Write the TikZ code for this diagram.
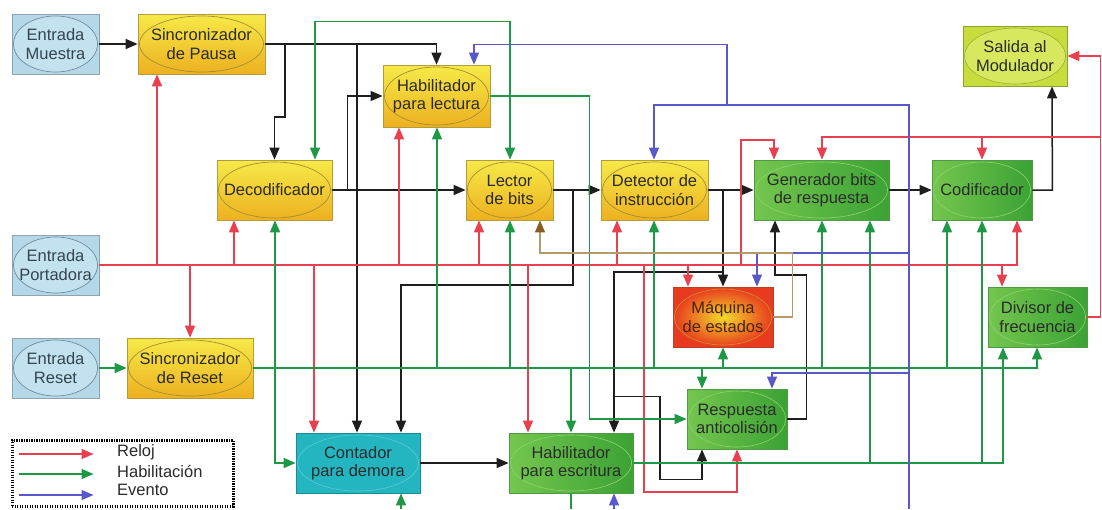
\documentclass[tikz,border=0pt]{standalone}
\usepackage{fontspec}
\setmainfont{Liberation Sans}
\usetikzlibrary{arrows.meta}

% line colours
\definecolor{datc}{HTML}{1E1E1E}
\definecolor{clkc}{HTML}{E8404E}
\definecolor{enc}{HTML}{1F9846}
\definecolor{evc}{HTML}{5858C8}
\definecolor{fbc}{HTML}{B39A6A}
\definecolor{fbtip}{HTML}{8A5A22}
\definecolor{txt}{HTML}{2B2B2B}
% block colours
\definecolor{inpfill}{HTML}{B5D8E8}
\definecolor{inpdraw}{HTML}{8FA4AE}
\definecolor{inpoval}{HTML}{6F8C9C}
\definecolor{inpovalfill}{HTML}{C3E2F0}
\definecolor{inptxt}{HTML}{34454F}
\definecolor{yeltop}{HTML}{F6EA48}
\definecolor{yelbot}{HTML}{EDB020}
\definecolor{yeldraw}{HTML}{B49C3C}
\definecolor{yeloval}{HTML}{A68E34}
\definecolor{grnl}{HTML}{74C64E}
\definecolor{grnr}{HTML}{3BA234}
\definecolor{grndraw}{HTML}{4F9A44}
\definecolor{grnoval}{HTML}{8ED46C}
\definecolor{limfill}{HTML}{C9DC3E}
\definecolor{limdraw}{HTML}{8FA236}
\definecolor{limoval}{HTML}{9AAE3A}
\definecolor{limovalfill}{HTML}{D8E85E}
\definecolor{teafill}{HTML}{24B6C0}
\definecolor{teadraw}{HTML}{1C8C94}
\definecolor{teaoval}{HTML}{58CCD2}
\definecolor{macin}{HTML}{F2DA2A}
\definecolor{macout}{HTML}{E83A1E}
\definecolor{macdraw}{HTML}{B8402A}
\definecolor{macoval}{HTML}{D09030}
\definecolor{mactxt}{HTML}{4A2410}

% a block: rectangle with an inscribed ellipse and its label
\newcommand\blockunit[7]{%
  \pgfmathsetmacro\bcx{(#2+#4)/2}%
  \pgfmathsetmacro\bcy{(#3+#5)/2}%
  \pgfmathsetmacro\bw{#4-#2}%
  \pgfmathsetmacro\bh{#5-#3}%
  \pgfmathsetmacro\brx{\bw/2-1.5}%
  \pgfmathsetmacro\bry{\bh/2-2}%
  \tikzset{cur oval/.style={#6 oval}}%
  \node[box,#6 box,minimum width=\bw pt,minimum height=\bh pt] (#1) at (\bcx,\bcy) {#7};%
}

\begin{document}
\begin{tikzpicture}[x=1pt,y=-1pt,
  >={Triangle[length=12pt,width=10pt]},
  box/.style={rectangle, inner sep=0pt, align=center, line width=0.8pt,
    font=\fontsize{16.5}{18.5}\selectfont, text=txt,
    path picture={\draw[cur oval] (path picture bounding box.center)
      ellipse [x radius=\brx pt, y radius=\bry pt];}},
  inp box/.style={fill=inpfill, draw=inpdraw, text=inptxt},
  inp oval/.style={draw=inpoval, fill=inpovalfill, line width=0.7pt},
  yel box/.style={top color=yeltop, bottom color=yelbot, draw=yeldraw},
  yel oval/.style={draw=yeloval, line width=0.7pt},
  grn box/.style={left color=grnl, right color=grnr, draw=grndraw},
  grn oval/.style={draw=grnoval, line width=0.6pt},
  lim box/.style={fill=limfill, draw=limdraw},
  lim oval/.style={draw=limoval, fill=limovalfill, line width=0.6pt},
  tea box/.style={fill=teafill, draw=teadraw},
  tea oval/.style={draw=teaoval, line width=0.6pt},
  mac box/.style={inner color=macin, outer color=macout, draw=macdraw, text=mactxt},
  mac oval/.style={draw=macoval, line width=0.6pt},
  dat/.style={draw=datc, line width=1.5pt},
  clk/.style={draw=clkc, line width=1.4pt},
  en/.style={draw=enc, line width=1.6pt},
  ev/.style={draw=evc, line width=1.3pt},
  fb/.style={draw=fbc, line width=1.3pt},
  legbox/.style={draw=black, line width=3pt, dash pattern=on 1.4pt off 1.1pt, inner sep=0pt},
  legtxt/.style={anchor=west, inner sep=0pt, font=\fontsize{16.5}{18.5}\selectfont, text=txt}]

\fill[white] (0,0) rectangle (1102,509);
\useasboundingbox (0,0) rectangle (1102,509);
\coordinate (bot) at (0,509);

% ---------- blocks ----------
\blockunit{em}{12}{14}{99}{74}{inp}{Entrada\\Muestra}
\blockunit{sp}{138}{14}{265}{74}{yel}{Sincronizador\\de Pausa}
\blockunit{ep}{12}{235}{99}{295}{inp}{Entrada\\Portadora}
\blockunit{er}{12}{338}{99}{398}{inp}{Entrada\\Reset}
\blockunit{sr}{127}{338}{253}{398}{yel}{Sincronizador\\de Reset}
\blockunit{dec}{217}{160}{332}{220}{yel}{Decodificador}
\blockunit{hl}{383}{65}{490}{127}{yel}{Habilitador\\para lectura}
\blockunit{lb}{466}{160}{553}{220}{yel}{Lector\\de bits}
\blockunit{di}{601}{160}{708}{220}{yel}{Detector de\\instrucción}
\blockunit{gb}{754}{160}{889}{220}{grn}{Generador bits\\de respuesta}
\blockunit{cod}{932}{160}{1032}{220}{grn}{Codificador}
\blockunit{sal}{963}{26}{1067}{86}{lim}{Salida al\\Modulador}
\blockunit{me}{673}{287}{773}{347}{mac}{Máquina\\de estados}
\blockunit{ra}{687}{389}{787}{449}{grn}{Respuesta\\anticolisión}
\blockunit{dv}{988}{287}{1087}{347}{grn}{Divisor de\\frecuencia}
\blockunit{cd}{296}{433}{420}{493}{tea}{Contador\\para demora}
\blockunit{he}{509}{433}{633}{493}{grn}{Habilitador\\para escritura}

% ---------- data (black) ----------
\draw[dat,->] (em.east) -- (sp.west);
\draw[dat,->] (sp.east) -| (hl.north);
\draw[dat,->] (sp.east -| 285,0) -- ++(0,73) -| (dec.north);
\draw[dat,->] (sp.east -| 357,0) -- (cd.north -| 357,0);
\draw[dat,->] (dec.east) -- ++(15,0) |- (hl.west);
\draw[dat,->] (dec.east) -- (dec.east -| lb.west);
\draw[dat,->] (lb.east) -- (lb.east -| di.west);
\draw[dat,->] (lb.east -| 573,0) -- ++(0,95) -| (cd.north -| 401,0);
\draw[dat,->] (di.east) -- (di.east -| gb.west);
\draw[dat,->] (di.east -| 723,0) -- (me.north);
\draw[dat,->] (di.east -| 723,0) ++(0,82) -| (he.north -| 614,0);
\draw[dat,->] (he.north -| 614,0) ++(0,-36) -- ++(46,0) -- ++(0,83) -| (ra.south -| 702,0);
\draw[dat,->] (ra.east) -- ++(19,0) -- ++(0,-144) -| (gb.south -| 775,0);
\draw[dat,->] (gb.east) -- (gb.east -| cod.west);
\draw[dat,->] (cod.east) -- ++(20,0) -- (sal.south -| 1052,0);
\draw[dat,->] (cd.east) -- (cd.east -| he.west);

% ---------- clock (red) ----------
\draw[clk,->] (ep.east) -| (cod.south -| 1017,0);
\foreach \x/\n in {157/sp, 234/dec, 399/hl, 479/lb, 617/di}
  \draw[clk,->] (ep.east -| \x,0) -- (\n.south -| \x,0);
\foreach \x/\n in {190/sr, 314/cd, 528/he, 688/me, 1002/dv}
  \draw[clk,->] (ep.east -| \x,0) -- (\n.north -| \x,0);
\draw[clk,->] (ep.east -| 644,0) -- ++(0,227) -| (ra.south -| 737,0);
\draw[clk,->] (ep.east -| 741,0) -- ++(0,-125) -| (gb.north -| 774,0);
\draw[clk,->] (dv.east) -- ++(13,0) |- (sal.east);
\draw[clk,->] (dv.east -| 1100,0) ++(0,-180) -| (gb.north -| 822,0);
\draw[clk,->] (sal.south -| 982,0) ++(0,51) -- (cod.north -| 982,0);

% ---------- enable (green) ----------
\draw[en,->] (er.east) -- (sr.west);
\draw[en,->] (sr.east) -| (dv.south -| 1037,0);
\foreach \x/\n in {275/dec, 437/hl, 510/lb, 654/di, 723/me, 822/gb, 947/cod}
  \draw[en,->] (sr.east -| \x,0) -- (\n.south -| \x,0);
\foreach \x/\n in {571/he, 702/ra}
  \draw[en,->] (sr.east -| \x,0) -- (\n.north -| \x,0);
\draw[en,->] (sr.east -| 275,0) |- (cd.west);
\draw[en,->] (he.east) -| (dv.south -| 1003,0);
\foreach \x/\n in {870/gb, 982/cod}
  \draw[en,->] (he.east -| \x,0) -- (\n.south -| \x,0);
\draw[en,->] (hl.east) -- ++(99,0) |- (ra.west);
\draw[en,<->] (dec.north -| 315,0) -- ++(0,-138) -| (lb.north -| 510,0);
\draw[en,->] (bot -| 401,0) -- (cd.south -| 401,0);
\draw[en] (he.south -| 571,0) -- (bot -| 571,0);

% ---------- events (blue) ----------
\draw[ev,->] (bot -| 909,0) -- ++(0,-404) -| (di.north -| 654,0);
\draw[ev,->] (di.north -| 727,0) ++(0,-55) -- ++(0,-60) -| (hl.north -| 474,0);
\draw[ev,->] (bot -| 909,0) ++(0,-256) -| (me.north -| 757,0);
\draw[ev,->] (bot -| 909,0) ++(0,-136) -| (ra.north -| 772,0);
\draw[ev,->] (bot -| 614,0) -- (he.south -| 614,0);

% ---------- state feedback (brown) ----------
\draw[fb,-{Triangle[length=12pt,width=10pt,color=fbtip]}]
  (me.east) -- ++(19,0) -- ++(0,-64) -| (lb.south -| 540,0);

% ---------- legend ----------
\node[legbox, minimum width=221pt, minimum height=66pt] (leg) at (122.5,473) {};
\draw[clk,->] (leg.west) ++(8,-19) coordinate (l1) -- ++(75,0) coordinate (l1e);
\draw[en,->] (leg.west) ++(8,1) coordinate (l2) -- ++(75,0) coordinate (l2e);
\draw[ev,->] (leg.west) ++(8,22) coordinate (l3) -- ++(75,0) coordinate (l3e);
\node[legtxt] (lt1) at (117,452) {Reloj};
\node[legtxt] (lt2) at (117,471) {Habilitación};
\node[legtxt] (lt3) at (117,490) {Evento};
\end{tikzpicture}
\end{document}
